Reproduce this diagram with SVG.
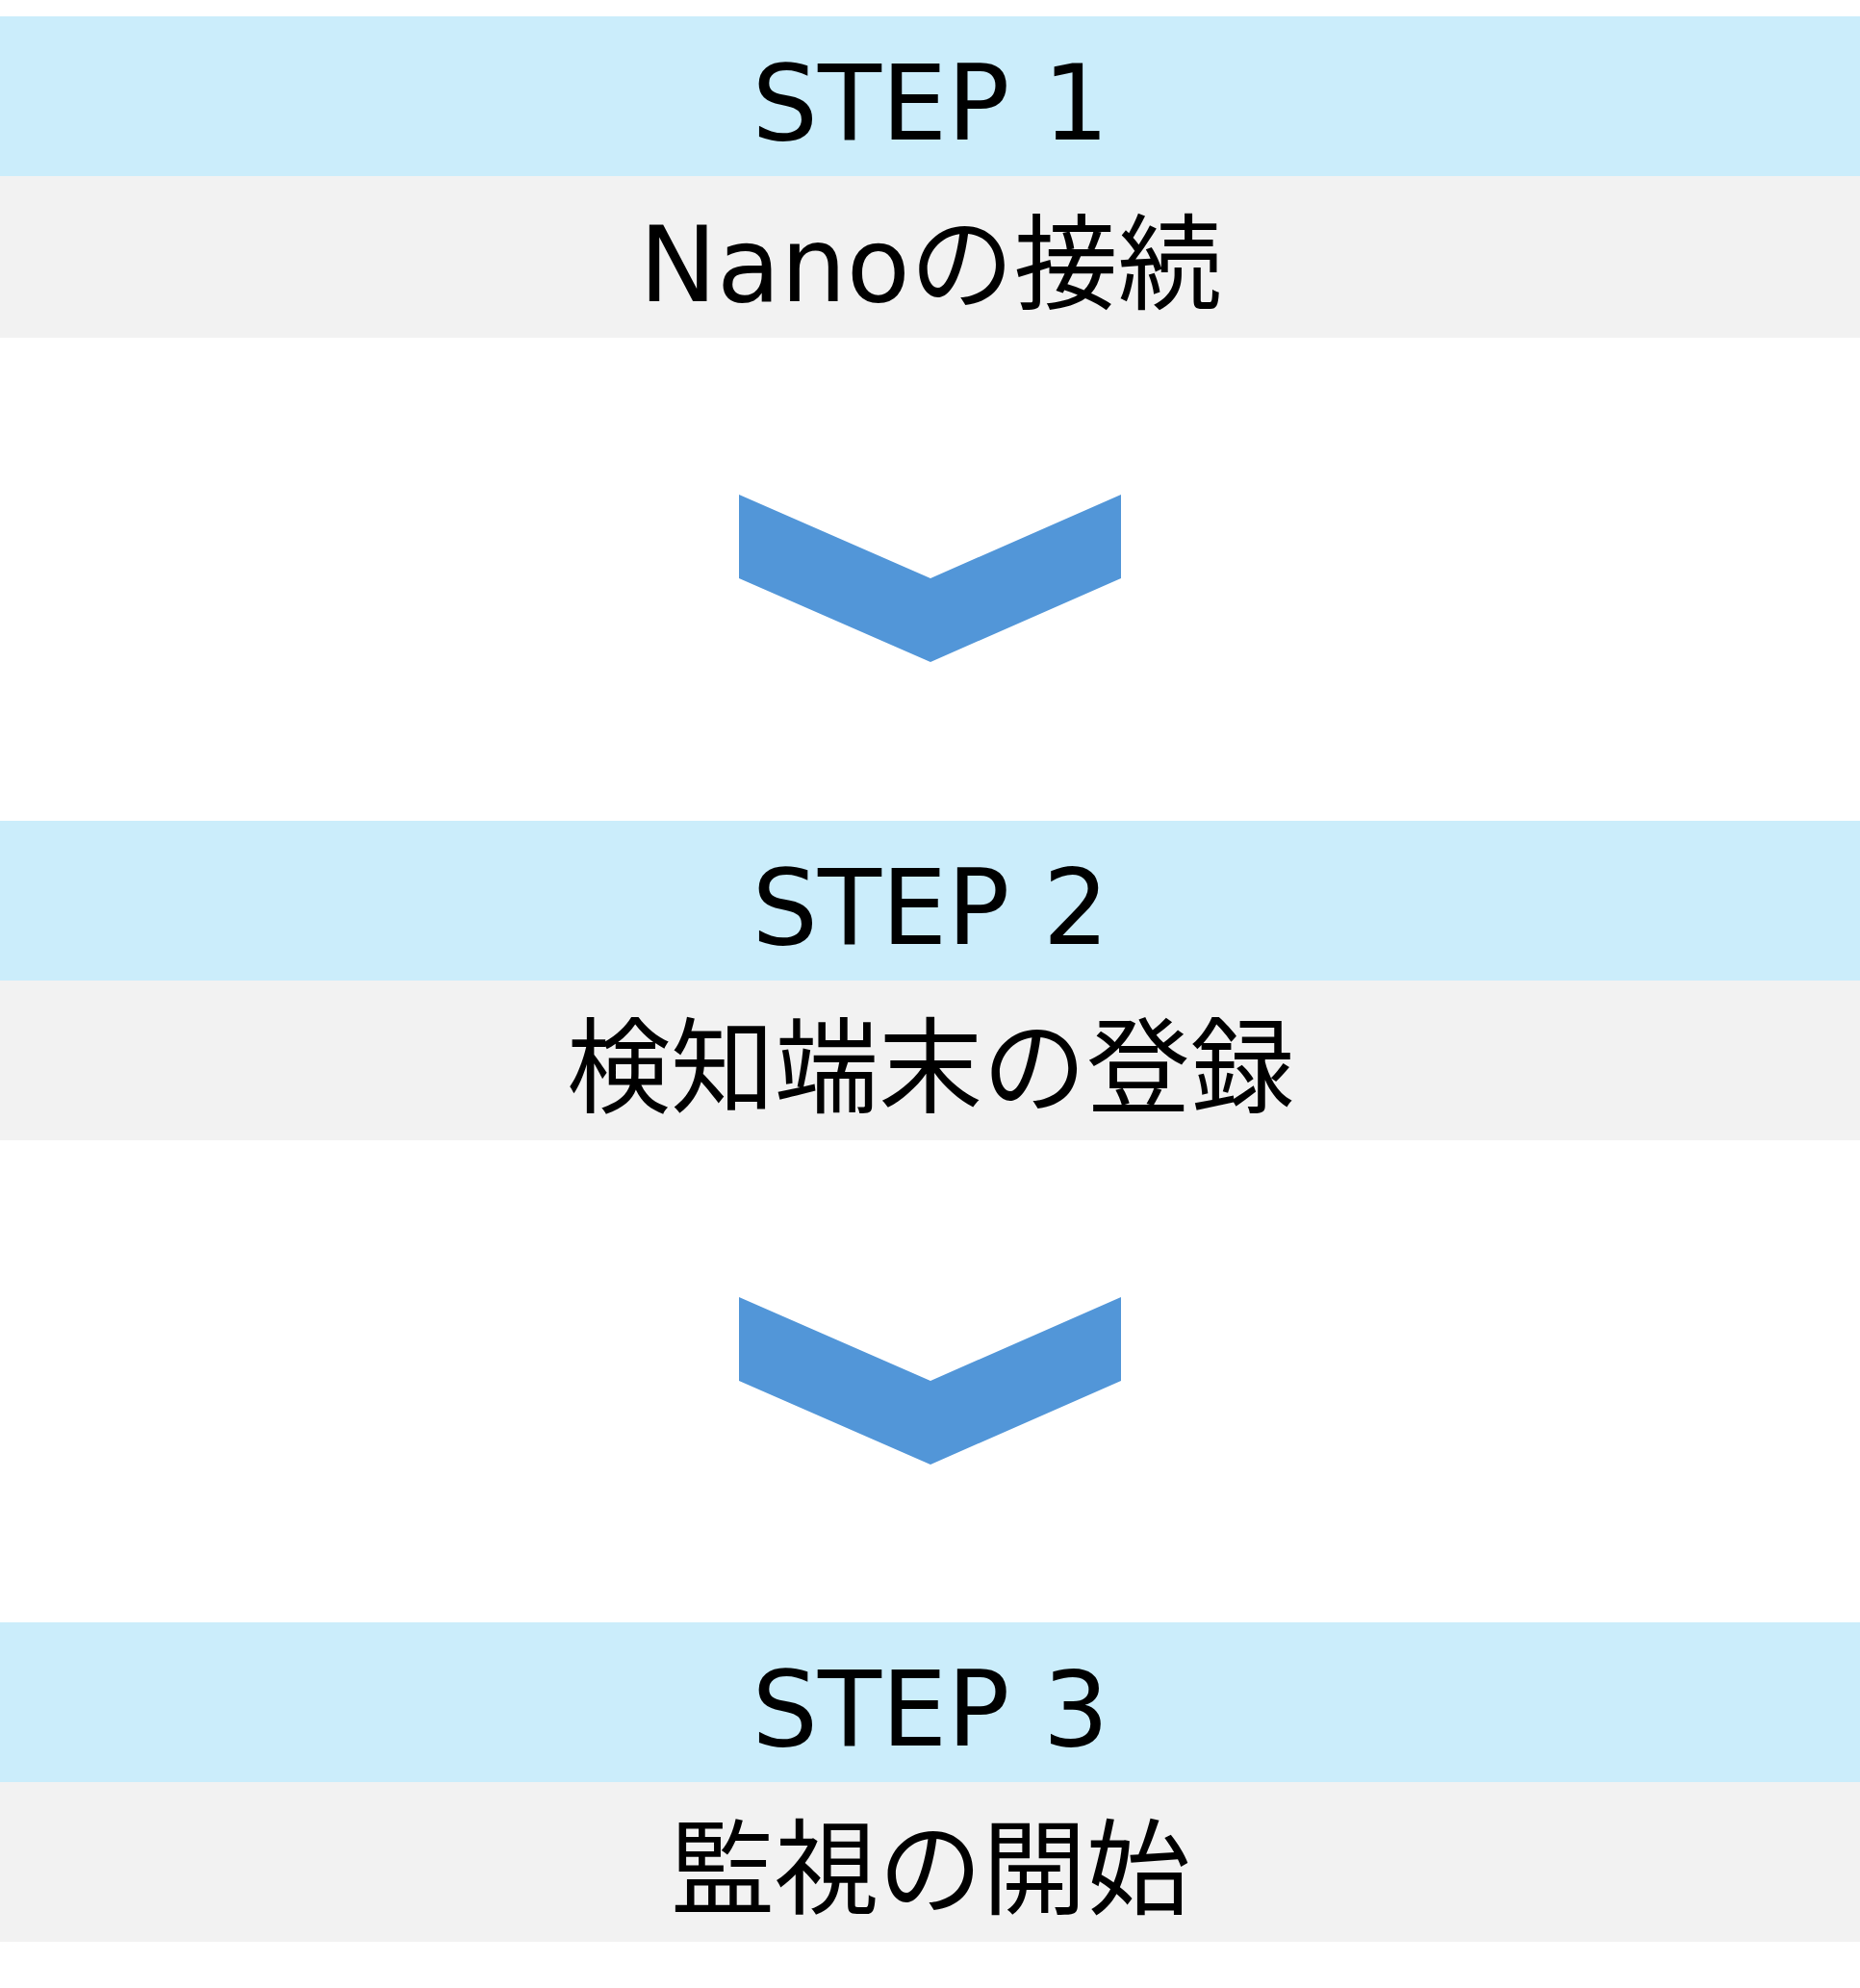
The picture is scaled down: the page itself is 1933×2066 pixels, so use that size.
<svg xmlns="http://www.w3.org/2000/svg" width="1933" height="2066" viewBox="0 0 1933 2066">
<style>
.h{fill:#cbedfb}.b{fill:#f2f2f2}.c{fill:#5296d8}
text{font-family:"DejaVu Sans","Noto Sans CJK JP",sans-serif;font-size:108px;fill:#000;text-anchor:middle}
</style>
<rect width="1933" height="2066" fill="#fff"/>
<g id="step1"><rect class="h" x="0" y="17" width="1933" height="166"/><rect class="b" x="0" y="183" width="1933" height="168"/>
<text x="967" y="145">STEP 1</text><text x="967" y="313">Nanoの接続</text></g>
<g id="step2"><rect class="h" x="0" y="853" width="1933" height="166"/><rect class="b" x="0" y="1019" width="1933" height="166"/>
<text x="967" y="981">STEP 2</text><text x="967" y="1148">検知端末の登録</text></g>
<g id="step3"><rect class="h" x="0" y="1686" width="1933" height="166"/><rect class="b" x="0" y="1852" width="1933" height="166"/>
<text x="967" y="1814">STEP 3</text><text x="967" y="1981">監視の開始</text></g>
<g id="connectors">
<polygon class="c" points="768,514 967,601 1165,514 1165,601 967,688 768,601"/>
<polygon class="c" points="768,1348 967,1435 1165,1348 1165,1435 967,1522 768,1435"/>
</g>
</svg>
